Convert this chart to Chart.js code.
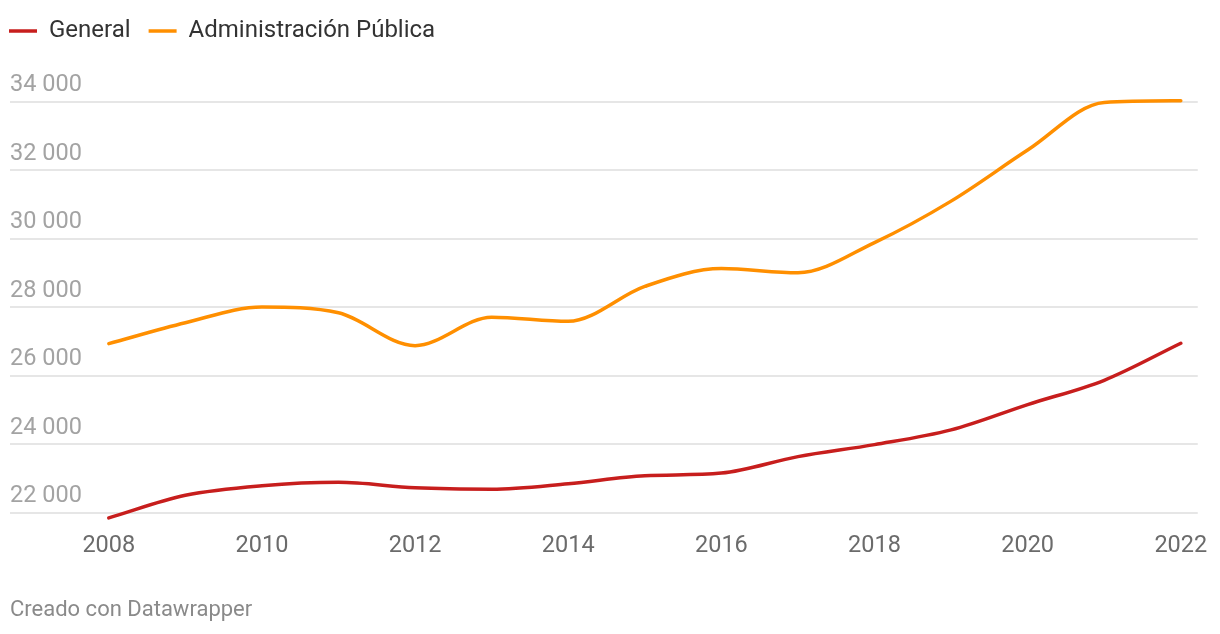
<!DOCTYPE html>
<html>
<head>
<meta charset="utf-8">
<script src="https://cdn.jsdelivr.net/npm/chart.js@4/dist/chart.umd.min.js"></script>
<style>
  html, body { margin: 0; padding: 0; background: #ffffff; }
  #wrap { position: relative; width: 1220px; height: 634px; }
</style>
</head>
<body>
<div id="wrap"><canvas id="c" width="1220" height="634"></canvas></div>
<script>
// ---- Data ----
const years = [2008, 2009, 2010, 2011, 2012, 2013, 2014, 2015, 2016, 2017, 2018, 2019, 2020, 2021, 2022];
const general = [21850, 22510, 22790, 22890, 22730, 22690, 22850, 23080, 23160, 23640, 23990, 24420, 25160, 25870, 26950];
const adminPublica = [26940, 27550, 28010, 27840, 26880, 27710, 27590, 28610, 29130, 29010, 29890, 31100, 32590, 33980, 34030];
const seriesNames = ['General', 'Administración Pública'];
const xTicks = [2008, 2010, 2012, 2014, 2016, 2018, 2020, 2022];
const yTicks = [22000, 24000, 26000, 28000, 30000, 32000, 34000];
const footerText = 'Creado con Datawrapper';

const FONT = 'Roboto, "Noto Sans", Arial, sans-serif';
const fmt = v => String(v).replace(/\B(?=(\d{3})+(?!\d))/g, ' ');
const toPoints = arr => years.map((yr, i) => ({ x: yr, y: arr[i] }));

// moves the built-in legend so that its first item starts at the left margin
const legendPlace = {
  id: 'legendPlace',
  beforeDraw(chart) {
    const lg = chart.legend;
    if (!lg) return;
    const pad = lg.options.labels.padding;
    lg.left = 9 - pad;
    lg.top = 19 - pad;
  }
};

new Chart(document.getElementById('c'), {
  type: 'line',
  data: {
    datasets: [
      { label: seriesNames[0], data: toPoints(general), borderColor: '#c71e1d', backgroundColor: '#c71e1d',
        borderWidth: 3.5, pointRadius: 0, pointHoverRadius: 0, cubicInterpolationMode: 'monotone',
        borderCapStyle: 'round', borderJoinStyle: 'round', fill: false },
      { label: seriesNames[1], data: toPoints(adminPublica), borderColor: '#ff8f00', backgroundColor: '#ff8f00',
        borderWidth: 3.5, pointRadius: 0, pointHoverRadius: 0, cubicInterpolationMode: 'monotone',
        borderCapStyle: 'round', borderJoinStyle: 'round', fill: false }
    ]
  },
  options: {
    responsive: false,
    animation: false,
    devicePixelRatio: 1,
    layout: { padding: { left: 10, right: 20, top: 0, bottom: 10.8 } },
    scales: {
      x: {
        type: 'linear', min: 2006.7095, max: 2022.2216,
        afterBuildTicks: (scale) => { scale.ticks = xTicks.map(v => ({ value: v })); },
        grid: { display: false, drawTicks: false },
        border: { display: false },
        ticks: { padding: 12.5, maxRotation: 0, autoSkip: false, color: '#6b6b6b',
          font: { family: FONT, size: 23.5 }, callback: (v) => String(v) }
      },
      y: {
        type: 'linear', min: 21789.8, max: 35454.0,
        afterBuildTicks: (scale) => { scale.ticks = yTicks.map(v => ({ value: v })); },
        grid: { color: '#e6e6e6', lineWidth: 2, drawTicks: false },
        border: { display: false },
        ticks: { mirror: true, padding: 0, labelOffset: -16.5, color: '#a3a3a3',
          font: { family: FONT, size: 23.5 }, callback: (v) => fmt(v) }
      }
    },
    plugins: {
      legend: {
        display: true, position: 'top', align: 'start',
        labels: { usePointStyle: true, pointStyle: 'line', pointStyleWidth: 28, boxHeight: 24,
          padding: 18, color: '#333333', font: { family: FONT, size: 24 } }
      },
      title: {
        display: true, text: footerText, position: 'bottom', align: 'start', color: '#8a8a8a',
        font: { family: FONT, size: 22, weight: 'normal' }, padding: { top: 23.6, bottom: 0 }
      },
      tooltip: { enabled: false }
    }
  },
  plugins: [legendPlace]
});
</script>
</body>
</html>
